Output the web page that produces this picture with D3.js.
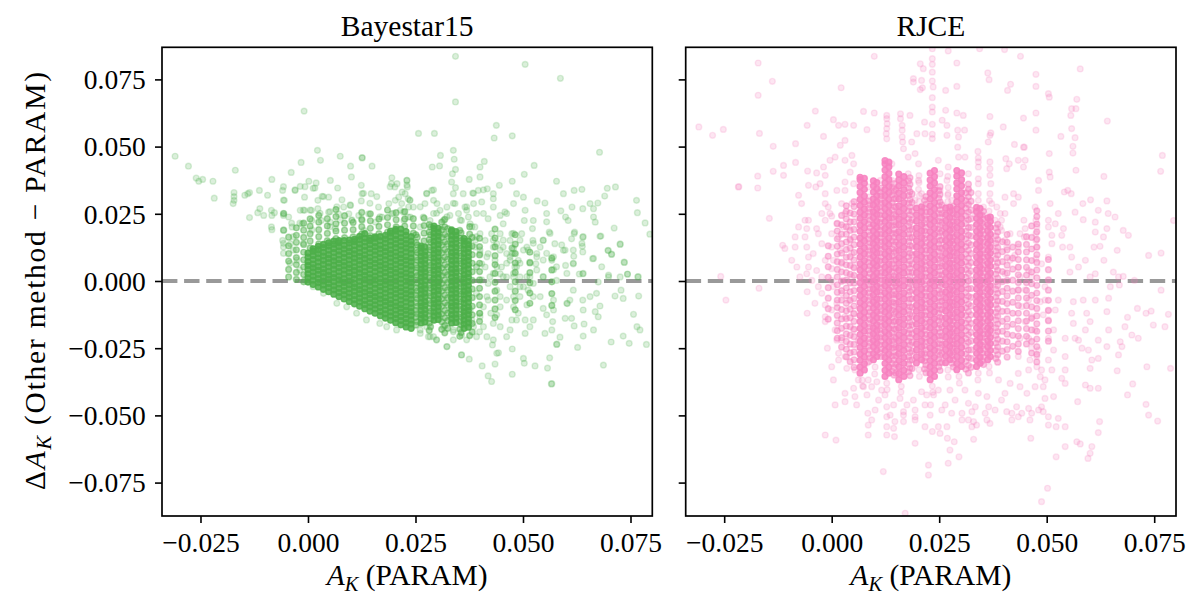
<!DOCTYPE html>
<html lang="en">
<head>
<meta charset="UTF-8">
<title>Delta A_K against PARAM</title>
<script src="https://d3js.org/d3.v7.min.js"></script>
<style>
  body { margin: 0; background: #fff; }
  svg { display: block; }
  text { font-family: "Liberation Serif", "DejaVu Serif", serif; fill: #000; }
</style>
</head>
<body>
<svg id="chart"></svg>
<script>
// every A_K / Delta A_K value below is in units of 0.001 mag
const xTicks = [-0.025, 0, 0.025, 0.05, 0.075];
const yTicks = [-0.075, -0.05, -0.025, 0, 0.025, 0.05, 0.075];
const panelTitles = ["Bayestar15", "RJCE"];

// ---- Bayestar15 ----
// single points
const bayesPts = [
  [-30.9,46.4],[-27.8,42.7],[-26.0,38.3],[-25.4,37.1],[-24.5,37.8],[-22.1,37.1],[-21.8,30.8],[-16.9,41.2],
  [-17.2,32.9],[-17.2,31.4],[-17.4,28.8],[-17.2,30.0],[-14.7,31.9],[-14.0,32.5],[-13.6,32.9],[-13.6,23.6],
  [-11.3,33.7],[-9.4,31.9],[-11.2,26.9],[-11.7,25.4],[-10.3,24.4],[-8.4,37.8],[-8.5,26.3],[-8.4,24.4],
  [-7.8,25.4],[-8.5,20.1],[-8.4,19.1],[-5.9,33.7],[-5.5,30.0],[-5.7,25.0],[-5.6,25.1],[-5.7,24.4],
  [-5.7,18.8],[-5.6,18.9],[-5.9,15.1],[-5.7,12.6],[-3.9,40.4],[-1.6,44.1],[-0.9,63.2],[2.2,48.6],
  [2.9,44.9],[7.5,46.4],[12.6,45.8],[12.6,45.9],[9.9,42.7],[10.1,38.7],[14.9,42.7],[0.2,37.1],
  [1.9,36.5],[-3.0,33.7],[-1.8,35.2],[-0.8,31.2],[1.6,34.6],[3.3,31.5],[4.8,31.2],[5.2,37.4],
  [6.9,34.6],[-1.8,26.3],[-0.8,26.3],[0.8,26.3],[2.3,26.9],[2.3,30.0],[7.9,30.2],[12.4,35.6],
  [12.6,32.5],[12.4,29.8],[14.7,32.5],[19.5,38.4],[19.4,36.2],[20.2,35.0],[20.7,36.2],[23.0,37.4],
  [21.9,33.1],[21.1,31.2],[23.3,30.6],
  [-4.5,23.8],[-3.7,20.1],[-4.1,13.9],[-1.4,21.3],[0.9,22.5],[3.1,22.5],[4.8,25.6],[5.2,21.9],
  [6.4,19.5],[7.1,25.0],[8.3,27.5],[9.5,25.0],[9.9,28.1],[10.2,22.5],[11.8,24.4],[12.6,22.5],
  [13.0,18.8],[14.1,25.0],[15.7,21.9],[16.4,27.5],[17.2,23.8],[18.8,28.8],[19.5,25.0],[20.3,30.0],
  [21.5,26.3],[22.3,22.5],[23.4,27.5],[23.8,23.8],
  [34.3,83.6],[50.5,80.6],[58.7,75.4],[34.3,66.6],[25.7,54.9],[29.4,54.9],[43.8,57.9],[43.3,53.2],
  [47.5,54.0],[67.8,47.9],[30.8,46.7],[28.9,42.4],[30.6,42.8],[33.8,48.6],[34.0,45.3],[34.3,41.5],
  [33.6,39.9],[33.4,36.8],[33.8,32.5],[34.3,34.7],[37.5,37.8],[36.1,32.5],[40.0,42.4],[41.0,44.5],
  [40.0,38.7],[44.5,35.6],[43.1,32.5],[38.3,32.7],[39.6,33.7],[40.8,33.9],[41.7,34.3],[50.3,39.7],
  [52.6,43.0],[47.5,37.1],[57.8,37.1],[59.4,32.5],[61.9,33.7],[63.7,34.1],[69.6,34.5],[71.5,35.0],
  [69.0,31.6],[76.4,30.0],[76.6,25.4],[78.4,21.6],[79.5,17.4],[71.2,19.7],[72.6,13.6],[67.9,16.6],
  [65.6,28.8],[66.4,26.9],[67.4,29.0],[63.9,26.9],[61.4,27.5],[58.8,26.1],[59.9,23.8],[60.5,22.5],
  [66.4,23.8],[66.8,21.9],[62.0,18.2],[63.9,16.3],[61.3,15.7],[63.8,12.9],[63.9,10.8],[61.8,9.2],
  [66.2,8.3],[69.8,11.4],[70.6,9.9],[73.5,7.0],[74.3,2.5],[76.7,1.5],[69.9,1.5],[72.6,1.5],
  [67.5,-0.4],[63.9,2.7],[61.7,6.4],[59.9,5.8],[59.4,11.4],[57.4,13.9],[55.1,29.0],[55.5,25.1],
  [55.5,22.0],[56.1,18.2],[54.7,15.1],[56.7,7.7],[57.1,4.2],[54.0,12.6],[53.3,29.8],[52.4,22.5],
  [52.2,19.5],[52.3,15.1],[53.2,10.2],[53.0,6.4],[50.9,12.6],[50.5,26.3],[50.3,22.5],[49.7,17.6],
  [50.1,31.2],[48.5,32.5],[47.8,28.8],[46.2,25.1],[44.7,24.4],[45.4,21.3],[47.8,12.0],[48.9,7.7],
  [46.2,10.2],[45.0,5.2],[43.1,12.6],[42.7,17.6],[41.9,23.2],[40.8,25.1],[39.2,25.1],[37.3,23.8],
  [36.5,27.5],[38.5,28.8],[40.4,29.4],[43.1,27.5],[43.1,30.6],[45.8,25.7],[47.4,17.6],[47.0,7.7],
  [44.7,2.7],[41.2,5.2],[49.3,1.5],[51.6,1.5],[54.7,1.5],[57.8,0.2],
  [23.0,37.4],[23.1,35.0],[22.6,32.5],[23.7,30.0],[21.8,28.8],[24.5,27.5],[22.2,25.6],[23.3,23.8],
  [27.6,32.5],[28.8,33.7],[29.2,30.0],[27.2,28.8],[30.0,28.8],[30.7,26.3],[29.2,25.1],[26.8,23.8],
  [28.4,22.5],[31.5,22.5],[26.1,20.1],[32.3,27.5],[33.0,24.4],[34.2,28.8],[35.0,25.1],[35.7,22.5],
  [36.9,26.3],[37.7,21.3],[38.8,20.1],[40.0,17.6],[41.2,15.1],[41.9,10.2],[40.0,10.2],[40.4,6.4],
  [38.8,12.6],[39.2,5.2],[44.7,17.6],[43.9,13.9],[43.5,7.7],[45.4,12.6],[47.0,15.1],[47.4,10.2],
  [48.1,5.2],[47.8,1.5],[46.2,1.5],[42.3,1.5],
  [35.7,-27.5],[37.5,-29.1],[40.5,-31.6],[41.9,-35.3],[42.7,-37.4],[43.5,-30.9],[44.3,-26.7],[42.9,-23.8],
  [47.5,-25.3],[47.5,-34.7],[50.1,-28.8],[50.3,-30.6],[52.8,-31.6],[55.7,-32.4],[56.2,-28.6],[56.6,-38.3],
  [56.7,-38.2],[57.8,-23.6],[57.9,-23.5],[58.6,-20.9],[62.7,-24.7],[64.0,-20.5],[68.7,-31.3],[70.5,-22.7],
  [73.3,-20.5],[74.7,-23.2],[78.7,-23.6],[75.7,-12.4],[76.5,-17.0],[77.2,-18.2],[71.4,-5.6],[73.3,-6.5],
  [76.9,-5.6],[72.8,-3.4],[74.3,2.6],[76.8,1.6],[73.6,6.9],[72.6,13.8],[69.8,11.3],[70.6,10.0],
  [68.1,16.7],[66.4,8.4],[68.3,5.3],[69.9,2.2],[67.1,-4.6],[65.6,-5.8],[66.8,-11.4],[67.5,-13.3],
  [66.4,-18.2],[67.9,-9.3],[63.9,-7.1],[64.0,-10.8],[64.2,-16.0],[61.9,-16.7],[61.3,-13.9],[60.2,-8.3],
  [60.3,-8.4],[60.9,-7.1],[59.8,-13.9],[61.7,-3.4],[60.2,2.8],[63.1,2.6],[64.0,2.8],[61.7,6.6],
  [59.8,11.5],[59.0,13.4],[61.7,11.5],[63.7,14.0],[64.0,16.5],[61.9,17.7],[57.1,9.0],[57.1,-7.1],
  [57.1,-10.8],[56.9,-15.1],[55.1,-19.5],[56.7,-18.2],[57.8,5.3],[54.7,1.6],[54.7,7.8],[55.5,10.3],
  [54.0,-5.8],[54.7,-10.2],[55.5,-12.6],[52.4,-14.5],[51.6,-17.0],[50.5,-19.5],[50.5,-14.5],[48.9,-12.0],
  [50.9,-8.9],[48.5,-14.5],[47.0,-18.2],[47.4,-14.5],[46.2,-20.7],[44.7,-17.0],[43.9,-26.9],[43.1,-21.9],
  [41.6,-20.7],[39.9,-18.9],[40.8,-17.0],[39.2,-20.7],[40.0,-13.3],[42.5,-12.0],[43.9,-12.6],[44.7,-9.6],
  [46.2,-7.1],[47.8,-9.6],[49.3,-5.8],[50.1,-2.1],[51.2,-3.4],[52.4,-0.9],[53.2,4.1],[51.6,6.6],
  [49.3,6.6],[47.8,10.3],[50.1,11.5],[52.4,14.0],[54.7,15.2],[56.3,17.7],[47.4,12.2],[47.5,12.3],
  [47.8,2.8],[47.0,-2.1],[43.9,-3.4],[43.1,2.8],[41.6,9.0],[44.7,11.5],[43.1,15.2],[41.6,-5.8],
  [40.0,-12.0],[38.5,-17.0],[36.9,-21.9],[35.7,-20.1],[33.8,-18.9],[32.3,-24.4],[33.8,-21.9],[29.9,-21.9],
  [29.2,-20.7],[28.0,-20.7],[26.1,-18.2],
  [38.9,15.2],[40.0,11.5],[39.2,5.3],[40.4,0.4],[39.2,-4.6],[40.8,-9.6],[41.9,-0.9],[43.9,5.3],
  [45.4,1.6],[46.2,6.6],[47.8,17.7],[49.3,15.2],[51.2,11.5],[53.2,9.0],[52.4,-5.8],[50.9,1.6],
  [49.3,-2.1],[44.7,-5.8],[43.1,-15.8],[47.8,-5.8],[48.5,5.3],[47.0,9.0],[45.4,15.2],[41.9,-7.1],
  [37.7,-10.8],[38.1,-14.5],[36.9,-3.4],
  [-5.7,35.1],[-5.7,30.1],[-5.7,25.2],[-5.7,19.0],[-5.7,14.0],[-5.7,10.3],[-3.4,16.5],[-3.4,11.5],
  [-2.6,7.8],[-3.0,33.9],[-0.7,35.1],[1.2,34.5],[-1.1,26.4],[0.5,26.4],[2.8,25.2],[5.1,25.8],
  [3.6,31.4],[6.7,27.6],[7.5,22.7],[9.8,28.3],[10.2,22.7],[5.1,20.2],[0.9,19.0],[-1.9,21.5],
  [-3.8,21.5],[-1.1,14.0],[-4.2,6.6],[-1.9,4.1],[-0.7,0.4],[1.2,-2.1],[3.6,-4.6],[6.7,-8.3],
  [9.0,-9.6],[11.3,-12.0],[13.6,-14.5],[16.7,-15.8],[18.3,-17.0],[20.6,-18.2],[26.1,-19.5],[28.4,-20.7],
  [29.9,-21.9],[32.3,-24.4],[35.7,-27.5],[33.8,-18.2],[31.5,-17.0],[27.6,-17.0],[12.9,32.6],[14.4,28.9],
  [16.0,31.4],[16.7,23.9],[19.8,25.2],[19.1,35.1],[23.0,35.7],[23.7,30.1],[26.1,27.6],[27.6,32.6],
  [29.2,33.9],[29.9,25.2],[32.3,23.9],[33.8,28.9],[35.4,22.7],[36.9,27.6],[38.5,32.6],[38.1,20.2],
  [39.2,16.5]
];
// medium-density streaks (a few points overlapping)
const bayesMidX = [-4.5, -2.7, -1.0, 0.5, 2.5, 4.5, 6.5, 8.5, 10.5, 12.5, 14.5, 16.5, 18.5, 20.5, 22.5, 24.5,
  25.1, 28.2, 31.8, 35.3, 27.0, 37.6, 39.9, 43.5, 48.2, 51.6, 56.7,
  25.4, 28.5, 31.1, 32.5, 35.6, 38.2];
const bayesMidY = [
  [1.5,4.3,7.4,10.2,13.1,16.3],
  [0.6,3.2,6.1,8.7,11.6,14.4,17.0,19.8],
  [-0.3,2.4,5.2,7.9,10.7,13.6,16.2,18.9,21.5],
  [12.3,14.9,17.6,20.4,23.1],
  [13.8,16.5,19.1,21.9,24.4],
  [15.0,17.7,20.5,23.2],
  [15.8,18.6,21.3,24.0,26.6],
  [16.1,18.9,21.5,24.3],
  [16.4,19.1,21.8],
  [17.5,20.2,22.9,25.5],
  [16.9,19.6,22.4,25.0],
  [17.6,20.3,23.1],
  [18.2,20.9,23.6,26.4],
  [20.1,22.8,25.4],
  [20.4,23.1,25.8],
  [17.8,20.5,23.2],
  [-16.4,-13.5,-10.9,-8.0,-5.2,-2.5,0.4,3.2,5.9,8.8,11.5,14.3,17.2],
  [-18.4,-15.7,-12.8,-10.1,-7.2,-4.4,-1.6,1.3,4.1,6.9,9.7,12.6,15.4,18.2,21.0],
  [-19.3,-16.6,-13.7,-11.0,-8.1,-5.3,-2.5,0.4,3.2,6.0,8.8,11.7,14.5,17.3,20.1,22.9],
  [-20.6,-17.9,-15.0,-12.3,-9.4,-6.6,-3.8,-0.9,1.9,4.7,7.5,10.4,13.2,16.0,18.8],
  [14.9,17.8,20.6,23.4],
  [-20.3,17.4,20.2],
  [-15.0,-12.0,-8.9,-5.8,-2.7,0.4,3.5,6.6,9.7,12.8,15.9],
  [-13.6,-10.4,-7.1,-3.8,-0.5,2.8,6.1,9.4,12.7,16.0,19.3],
  [-10.7,-7.3,-3.8,-0.3,3.2,6.7,10.2,13.7,17.2],
  [-8.3,-4.5,-0.7,3.1,6.9,10.7],
  [-9.1,-4.7,-0.3,4.1,8.5],
  [-15.1,-12.2,-9.4,-6.5,-3.7,-0.8,2.0,4.9,7.7,10.6,13.4,16.3],
  [-17.0,-14.1,-11.3,-8.4,-5.6,-2.7,0.1,3.0,5.8,8.7,11.5,14.4,17.2,20.1],
  [-18.0,-15.1,-12.3,-9.4,-6.6,-3.7,-0.9,2.0,4.8,7.7,10.5,13.4,16.2,19.1,21.9],
  [-17.6,-14.7,-11.9,-9.0,-6.2,-3.3,-0.5,2.4,5.2,8.1,10.9,13.8,16.6,19.5],
  [-19.2,-16.3,-13.5,-10.6,-7.8,-4.9,-2.1,0.8,3.6,6.5,9.3,12.2,15.0,17.9],
  [-19.0,-15.8,-12.6,-9.4,-6.2,-3.0,0.2,3.4,6.6,9.8,13.0,16.2]
];
// saturated streaks: many points stacked on top of each other
const bayesCoreX = [0.0, 1.2, 2.4, 3.6, 4.8, 6.0, 7.2, 8.4, 9.6, 10.8, 12.0, 13.2, 14.4, 15.6, 16.8, 18.0,
  19.2, 20.4, 21.6, 22.8, 24.0, 26.3, 27.2, 29.3, 30.3, 33.4, 34.4, 36.3, 37.3];
const bayesCoreY = [
  [-0.4,1.2,2.7,4.3,5.8,7.2,8.9,10.4],
  [-1.3,0.3,1.8,3.4,4.9,6.3,8.0,9.5,11.1,12.0],
  [-2.2,-0.6,0.9,2.5,4.0,5.4,7.1,8.6,10.2,11.6,12.9],
  [-3.1,-1.5,0.0,1.6,3.1,4.5,6.2,7.7,9.3,10.7,12.4,13.6],
  [-4.0,-2.4,-0.9,0.7,2.2,3.6,5.3,6.8,8.4,9.8,11.5,13.0,14.2],
  [-4.9,-3.3,-1.8,-0.2,1.3,2.7,4.4,5.9,7.5,8.9,10.6,12.1,13.7,14.8],
  [-5.8,-4.2,-2.7,-1.1,0.4,1.8,3.5,5.0,6.6,8.0,9.7,11.2,12.8,14.2,15.0],
  [-6.7,-5.1,-3.6,-2.0,-0.5,0.9,2.6,4.1,5.7,7.1,8.8,10.3,11.9,13.3,15.0],
  [-7.6,-6.0,-4.5,-2.9,-1.4,0.0,1.7,3.2,4.8,6.2,7.9,9.4,11.0,12.4,14.1,15.2],
  [-8.5,-6.9,-5.4,-3.8,-2.3,-0.9,0.8,2.3,3.9,5.3,7.0,8.5,10.1,11.5,13.2,14.7,15.5],
  [-9.4,-7.8,-6.3,-4.7,-3.2,-1.8,-0.1,1.4,3.0,4.4,6.1,7.6,9.2,10.6,12.3,13.8,15.4,16.6],
  [-10.3,-8.7,-7.2,-5.6,-4.1,-2.7,-1.0,0.5,2.1,3.5,5.2,6.7,8.3,9.7,11.4,12.9,14.5,15.9,17.6],
  [-11.2,-9.6,-8.1,-6.5,-5.0,-3.6,-1.9,-0.4,1.2,2.6,4.3,5.8,7.4,8.8,10.5,12.0,13.6,15.0,16.0],
  [-12.0,-10.4,-8.9,-7.3,-5.8,-4.4,-2.7,-1.2,0.4,1.8,3.5,5.0,6.6,8.0,9.7,11.2,12.8,14.2,15.9,16.4],
  [-12.9,-11.3,-9.8,-8.2,-6.7,-5.3,-3.6,-2.1,-0.5,0.9,2.6,4.1,5.7,7.1,8.8,10.3,11.9,13.3,15.0,16.5],
  [-13.8,-12.2,-10.7,-9.1,-7.6,-6.2,-4.5,-3.0,-1.4,0.0,1.7,3.2,4.8,6.2,7.9,9.4,11.0,12.4,14.1,15.6,17.0],
  [-14.6,-13.0,-11.5,-9.9,-8.4,-7.0,-5.3,-3.8,-2.2,-0.8,0.9,2.4,4.0,5.4,7.1,8.6,10.2,11.6,13.3,14.8,16.4,17.8,18.6],
  [-15.5,-13.9,-12.4,-10.8,-9.3,-7.9,-6.2,-4.7,-3.1,-1.7,0.0,1.5,3.1,4.5,6.2,7.7,9.3,10.7,12.4,13.9,15.5,16.9,18.6,19.2],
  [-16.3,-14.7,-13.2,-11.6,-10.1,-8.7,-7.0,-5.5,-3.9,-2.5,-0.8,0.7,2.3,3.7,5.4,6.9,8.5,9.9,11.6,13.1,14.7,16.1,17.8,19.3],
  [-17.1,-15.5,-14.0,-12.4,-10.9,-9.5,-7.8,-6.3,-4.7,-3.3,-1.6,-0.1,1.5,2.9,4.6,6.1,7.7,9.1,10.8,12.3,13.9,15.3,17.0,18.4],
  [-17.6,-16.0,-14.5,-12.9,-11.4,-10.0,-8.3,-6.8,-5.2,-3.8,-2.1,-0.6,1.0,2.4,4.1,5.6,7.2,8.6,10.3,11.8,13.4,14.8,16.5],
  [-15.6,-14.0,-12.5,-10.9,-9.4,-8.0,-6.3,-4.8,-3.2,-1.8,-0.1,1.4,3.0,4.4,6.1,7.6,9.2,10.6,12.3,13.0],
  [-15.3,-13.7,-12.2,-10.6,-9.1,-7.7,-6.0,-4.5,-2.9,-1.5,0.2,1.7,3.3,4.7,6.4,7.9,9.5,10.9,12.6],
  [-14.6,-13.0,-11.5,-9.9,-8.4,-7.0,-5.3,-3.8,-2.2,-0.8,0.9,2.4,4.0,5.4,7.1,8.6,10.2,11.6,13.3,14.8,16.4,17.8,19.5,20.4],
  [-14.3,-12.7,-11.2,-9.6,-8.1,-6.7,-5.0,-3.5,-1.9,-0.5,1.2,2.7,4.3,5.7,7.4,8.9,10.5,11.9,13.6,15.1,16.7,18.1,19.6],
  [-15.6,-14.0,-12.5,-10.9,-9.4,-8.0,-6.3,-4.8,-3.2,-1.8,-0.1,1.4,3.0,4.4,6.1,7.6,9.2,10.6,12.3,13.8,15.4,16.8,18.5,19.0],
  [-15.4,-13.8,-12.3,-10.7,-9.2,-7.8,-6.1,-4.6,-3.0,-1.6,0.1,1.6,3.2,4.6,6.3,7.8,9.4,10.8,12.5,14.0,15.6,17.0,18.4],
  [-17.6,-16.0,-14.5,-12.9,-11.4,-10.0,-8.3,-6.8,-5.2,-3.8,-2.1,-0.6,1.0,2.4,4.1,5.6,7.2,8.6,10.3,11.8,13.4,14.8,15.8],
  [-17.2,-15.6,-14.1,-12.5,-11.0,-9.6,-7.9,-6.4,-4.8,-3.4,-1.7,-0.2,1.4,2.8,4.5,6.0,7.6,9.0,10.6,12.1,13.5,14.9]
];

// ---- RJCE ----
const rjcePts = [
  [-30.9,57.3],[-27.7,54.2],[-25.2,56.4],[-17.1,81.1],[-13.8,74.3],[-17.1,69.1],[-16.8,54.9],[-13.6,50.1],
  [-21.7,35.0],[-21.6,35.1],[-17.2,39.0],[-17.2,34.6],[-13.6,40.8],[-14.5,23.3],[-11.2,43.0],[-11.2,39.3],
  [-8.4,51.1],[-8.4,44.1],[-5.7,57.9],[-3.8,63.2],[-5.6,40.9],[-3.5,40.2],[-5.4,35.6],[-7.7,31.9],
  [-7.0,28.8],[-5.4,22.6],[-7.7,20.1],[-6.2,16.4],[-8.5,16.4],[-10.9,12.1],[-11.4,13.3],[-9.3,7.7],
  [-25.8,1.7],[-1.9,53.8],[0.4,60.0],[1.6,57.9],[3.1,58.3],[5.1,57.9],[2.2,71.9],[-3.7,35.0],
  [-1.5,32.5],[-0.8,27.5],[0.0,24.1],[-1.9,42.4],[-0.4,44.9],[0.8,46.1],[2.0,50.5],[3.1,52.3],
  [3.1,44.9],[4.7,46.7],[5.1,43.6],[4.3,40.5],[-1.5,39.3],[-2.7,36.2],[3.1,36.8],[1.2,33.7],
  [3.1,33.7],[5.1,36.2],[2.3,28.8],[4.7,28.8],[-3.5,19.5],[-1.5,22.6],[0.0,17.6],[2.7,20.1],
  [-2.3,13.9],[-1.5,7.7],[0.0,4.6],[-3.5,3.9],[-5.8,2.7],[-5.4,8.9],
  [7.4,63.1],[8.2,56.3],[9.9,83.6],[9.9,62.5],[12.8,61.6],[12.8,60.4],[12.9,58.5],[12.8,56.7],
  [12.7,54.8],[12.8,52.9],[16.0,62.2],[16.0,60.4],[16.4,57.9],[16.4,56.1],[16.4,53.6],[16.5,51.7],
  [16.7,49.2],[18.2,61.6],[18.6,51.7],[19.8,54.8],[20.6,80.8],[21.3,79.0],[19.0,75.3],[19.0,74.0],
  [20.9,74.6],[21.1,71.9],[20.6,71.2],[21.7,54.8],[21.6,59.1],[23.4,86.4],[23.4,82.7],[23.4,80.6],
  [23.4,77.7],[23.4,74.4],[23.6,72.2],[23.4,68.2],[23.4,64.7],[23.4,62.9],[23.4,58.3],[23.4,54.6],
  [23.4,53.0],[27.1,85.6],[29.1,81.1],[29.1,72.4],[26.5,70.9],[26.5,63.5],[25.7,59.8],[26.8,57.9],
  [26.8,54.2],[29.1,62.5],[30.6,61.6],[29.3,56.1],[30.9,56.1],[29.5,53.6],[29.3,49.8],[29.5,46.1],
  [31.0,46.1],[34.4,86.4],[40.2,86.1],[43.9,83.6],[36.3,77.4],[36.6,74.9],[40.9,70.9],[41.6,73.2],
  [47.5,76.9],[47.5,72.4],[50.4,69.7],[50.6,68.4],[57.8,78.9],[57.0,67.6],[55.8,64.1],[56.8,64.1],
  [55.6,61.6],[55.8,56.7],[56.6,53.3],[56.1,50.1],[56.1,47.6],[56.8,41.2],[64.1,59.5],[63.3,38.9],
  [76.9,46.7],[76.5,40.8],[79.5,22.5],[47.5,62.5],[47.5,56.1],[44.6,60.6],[44.6,49.8],[42.5,50.8],
  [39.9,57.3],[37.0,55.1],[36.8,54.2],[36.4,51.7],[36.8,61.2],[34.0,48.2],[34.1,45.8],[34.1,44.3],
  [34.1,42.4],[34.1,38.0],[34.1,36.2],[34.1,32.5],[36.8,44.3],[36.8,41.8],[36.8,39.3],[37.0,36.2],
  [36.8,32.5],[40.5,45.5],[40.7,41.8],[41.3,43.6],[43.4,44.9],[44.8,49.8],[45.0,44.9],[44.6,42.4],
  [50.6,47.4],[50.6,40.5],[50.8,38.7],[48.1,37.4],[48.1,33.7],[53.3,53.8],[54.1,33.1],[54.9,33.7],
  [55.7,32.5],[56.6,25.6],[58.4,28.8],[60.2,30.2],[58.5,22.8],[61.3,21.9],[62.0,26.3],[64.0,29.8],
  [64.0,19.5],[65.9,23.8],[64.3,25.1],[61.3,18.2],[63.2,16.4],[62.4,12.9],[61.0,12.6],[63.3,7.7],
  [66.4,11.4],[67.8,18.8],[69.0,17.0],[73.7,9.5],[76.6,10.4],[70.4,0.2],[66.7,1.5],[67.8,1.7],
  [65.5,3.3],[60.1,1.5],[61.3,2.7],[55.4,3.3],[57.4,5.2],[59.0,7.7],[55.8,8.9],[55.4,12.6],
  [53.5,17.0],[53.7,12.6],[53.9,19.5],[51.2,17.0],[52.0,21.3],[50.4,22.6],[50.4,20.1],[51.2,13.9],
  [50.4,8.9],[48.8,6.4],[47.3,27.5],[47.5,22.6],[47.7,20.1],[47.5,17.6],[47.5,15.1],[47.7,12.6],
  [47.5,8.3],[45.0,19.5],[44.8,16.4],[44.7,22.6],[43.8,17.6],[43.4,12.6],[42.6,9.6],[43.4,5.2],
  [43.8,1.5],[45.8,3.9],[46.5,1.5],[41.5,7.7],[40.3,2.7],[40.3,15.1],[40.7,12.6],[39.2,20.1],
  [39.5,22.6],[38.4,27.5],[39.2,25.1],[42.3,32.5],[43.4,31.2],[42.3,28.8],[40.3,31.2],[50.8,28.8],
  [52.7,25.1],
  [-6.2,22.6],[-5.8,19.5],[-5.8,12.6],[-5.4,5.2],[-4.3,10.2],[-3.1,17.6],[-2.3,25.1],[-1.5,28.8],
  [-0.4,25.1],[0.0,12.6],[0.4,7.7],[1.2,21.3],[1.6,16.4],[2.0,11.4],[2.3,6.4],[3.1,25.1],
  [3.9,20.1],[4.3,15.1],[4.7,10.2],[5.1,5.2],[4.7,1.5],[2.7,0.2],[0.0,0.2],[-2.3,1.5],
  [-4.6,0.2],[-7.4,1.5],[-8.5,12.6],[-8.1,5.2],
  [8.5,35.0],[8.7,31.3],[11.3,37.4],[11.3,32.5],[14.0,43.6],[14.0,37.4],[14.4,32.5],[17.8,46.1],
  [17.8,39.9],[19.4,47.4],[20.2,43.6],[20.2,37.4],[20.9,32.5],[19.4,30.0],[24.8,44.9],[25.2,39.9],
  [25.2,33.7],[27.1,42.4],[26.8,37.4],[27.1,32.5],[27.9,30.0],[31.8,39.9],[31.8,33.7],[31.4,28.8],
  [34.1,30.0],[33.4,25.1],[35.3,27.5],[37.2,28.8],[38.0,22.6],[40.3,25.1],[39.5,18.8],[41.5,17.6],
  [20.3,29.5],[20.4,31.8],[20.2,34.1],[20.3,36.6],[20.3,39.2],[27.0,29.6],[27.0,32.0],[27.1,34.8],
  [27.0,38.9],[36.6,26.0],[36.7,29.9],
  [-24.6,-7.1],[-16.9,-2.7],[-5.7,-4.0],[-5.7,-12.0],[-3.9,-8.3],[-1.5,-8.9],[-1.5,-13.3],[-1.5,-15.1],
  [-1.0,-25.0],[-1.5,-57.3],[1.0,-59.2],[0.8,-46.1],[3.1,-44.9],[3.1,-41.8],[5.8,-46.1],[0.8,-18.2],
  [1.2,-22.0],[1.6,-26.9],[3.1,-28.1],[3.5,-32.5],[5.1,-39.9],[5.4,-33.1],[7.4,-39.3],[8.2,-42.4],
  [8.4,-49.2],[8.5,-53.6],[9.3,-51.7],[12.0,-70.9],[12.8,-57.3],[14.6,-57.9],[14.4,-54.8],[16.7,-49.9],
  [17.1,-86.4],[19.4,-60.4],[22.5,-68.5],[22.5,-72.2],[23.4,-56.0],[25.2,-56.7],[26.9,-58.5],[28.5,-59.8],
  [27.5,-62.9],[27.1,-67.8],[29.6,-65.4],[33.0,-58.9],[33.0,-52.3],[33.7,-53.6],[36.8,-53.0],[46.3,-58.5],
  [48.8,-82.1],[50.2,-77.1],[52.2,-65.4],[54.3,-61.6],[57.0,-59.8],[57.8,-60.6],[59.6,-66.0],[60.1,-64.1],
  [60.5,-61.6],[62.0,-56.4],[62.3,-52.3],[73.1,-45.9],[73.7,-49.9],[75.8,-52.1],[78.8,-32.5],[77.5,-17.0],
  [78.3,-12.4],[76.6,-3.4],[74.8,-16.4],[74.3,-11.2],[73.1,-12.0],[71.1,-10.2],[71.3,-21.3],[69.8,-20.1],
  [70.0,-38.3],[68.8,-42.4],[73.3,-31.9],[68.2,-17.0],[68.8,-13.5],[67.1,-22.6],[67.5,-24.4],[66.4,-33.4],
  [66.7,-27.5],[66.9,-1.5],[64.8,-2.1],[64.4,-6.4],[64.0,-11.4],[64.4,-18.2],[64.0,-24.4],[62.0,-22.0],
  [62.0,-28.8],[62.0,-39.9],[60.1,-39.9],[59.0,-38.7],[60.1,-32.5],[60.5,-29.4],[59.7,-25.7],[58.2,-25.0],
  [57.4,-22.0],[59.0,-18.2],[59.3,-12.0],[60.1,-15.1],[61.3,-7.1],[58.5,-7.1],[56.2,-7.7],[55.8,-12.0],
  [56.2,-15.8],[56.6,-21.3],[54.3,-21.3],[54.3,-28.1],[54.3,-33.1],[53.5,-36.2],[54.3,-38.1],[57.2,-44.9],
  [54.3,-54.2],[52.7,-51.1],[52.2,-54.2],[50.4,-50.5],[50.4,-53.6],[51.6,-43.0],[49.6,-43.7],[49.2,-48.6],
  [46.1,-51.7],[46.5,-49.2],[48.1,-48.0],[48.8,-46.8],[45.8,-47.4],[44.2,-49.2],[43.0,-46.8],[43.4,-50.5],
  [41.9,-49.2],[40.7,-48.6],[45.4,-41.8],[47.3,-39.3],[49.2,-39.3],[49.6,-36.8],[48.5,-35.6],[48.8,-33.1],
  [50.4,-29.4],[51.2,-33.1],[51.6,-25.7],[50.4,-21.3],[51.6,-18.2],[50.4,-14.5],[49.2,-12.6],[48.5,-7.7],
  [49.6,-7.1],[50.4,-10.8],[52.0,-10.8],[52.7,-7.1],[49.6,-2.1],[47.3,-18.2],[48.1,-25.7],[47.7,-28.1],
  [47.7,-31.9],[45.8,-33.1],[46.1,-29.4],[46.5,-25.0],[45.8,-21.3],[45.0,-15.1],[46.5,-13.3],[44.2,-9.5],
  [45.8,-7.1],[43.4,-3.3],[45.0,-3.3],[43.8,-21.3],[43.4,-28.1],[43.4,-34.4],[43.8,-39.3],[41.5,-38.1],
  [40.3,-41.8],[39.5,-44.3],[38.8,-36.8],[38.0,-48.0],[36.5,-46.8],[36.1,-43.0],[35.7,-49.2],[33.4,-46.8],
  [32.6,-48.6],[34.1,-41.8],[31.8,-45.5],[31.0,-40.6],[30.3,-49.2],[30.3,-51.7],[27.9,-49.2],[28.7,-44.3],
  [27.5,-40.6],[26.4,-46.1],[25.6,-48.0],[24.8,-40.6],[23.0,-46.1],[22.9,-49.9],[23.7,-42.4],[22.1,-42.4],
  [21.7,-46.1],[20.9,-41.2],[19.4,-48.0],[19.4,-50.5],[19.0,-44.3],[17.5,-46.1],[16.7,-48.6],[15.9,-43.7],
  [14.4,-46.1],[13.6,-49.9],[12.8,-50.5],[12.8,-46.8],[12.4,-42.4],[11.6,-40.6],[10.9,-44.3],[10.1,-48.0],
  [10.5,-37.5],[9.3,-39.3],[8.5,-36.8],[8.2,-30.6],[6.2,-22.0],[5.1,-18.2],[5.1,-12.0],[3.9,-7.1],
  [3.1,-13.3],[2.3,-22.0],[2.3,-4.6],[1.2,-8.3],[0.0,-10.8],[0.4,-2.1],[-2.3,-4.6],[-3.1,-2.1],
  [0.0,-31.9],[0.4,-36.8],[1.6,-29.4],[5.4,-43.0],[6.2,-36.8],[8.5,-57.3],[12.8,-54.2],[14.7,-52.3],
  [16.7,-52.3],[19.4,-51.7],[21.7,-54.2],[24.8,-54.2],[26.8,-54.2],[31.8,-51.7],[32.6,-54.2],[36.1,-51.7],
  [41.9,-51.7],
  [7.1,-36.9],[7.2,-39.1],[10.1,-32.0],[10.0,-34.6],[12.8,-38.0],[12.9,-40.4],[16.2,-39.2],[16.1,-41.3],
  [20.3,-33.0],[20.4,-35.5],[23.4,-39.1],[23.5,-41.4],[27.0,-33.1],[27.1,-35.7],[29.6,-35.5],[29.7,-38.0],
  [34.1,-34.3],[34.0,-36.8],[36.6,-31.8],[36.7,-34.2]
];
// medium-density streaks between the saturated ones
const rjceMidX = [8.6, 11.5, 14.5, 18.2, 21.9, 25.2, 28.3, 31.8, 35.3, 38.6, 40.8, 43.4, 45.3, 47.7, 50.4,
  5.2, 3.4, 1.3, -0.8,
  8.9, 11.2, 14.1, 14.9, 17.9, 18.7, 21.6, 24.9, 25.6, 28.0, 31.2, 32.4, 35.0, 38.2, 4.3, 2.3, 39.7, 42.1, 46.5];
const rjceMidY = [
  [-30.0,-27.2,-24.3,-21.5,-18.6,-15.8,-12.9,-10.1,-7.2,-4.4,-1.5,1.3,4.2,7.0,9.9,12.7,15.6,18.4,21.3,24.1,27.0,29.8],
  [-28.1,-25.3,-22.4,-19.6,-16.7,-13.9,-11.0,-8.2,-5.3,-2.5,0.4,3.2,6.1,8.9,11.8,14.6,17.5,20.3,23.2,26.0,28.9,31.7,34.6],
  [-35.0,-32.2,-29.3,-26.5,-23.6,-20.8,-17.9,-15.1,-12.2,-9.4,-6.5,-3.7,-0.8,2.0,4.9,7.7,10.6,13.4,16.3,19.1,22.0,24.8,27.7,30.5,33.4,36.2],
  [-35.2,-32.4,-29.5,-26.7,-23.8,-21.0,-18.1,-15.3,-12.4,-9.6,-6.7,-3.9,-1.0,1.8,4.7,7.5,10.4,13.2,16.1,18.9,21.8,24.6,27.5,30.3,33.2,36.0,38.4],
  [-34.1,-31.3,-28.4,-25.6,-22.7,-19.9,-17.0,-14.2,-11.3,-8.5,-5.6,-2.8,0.1,2.9,5.8,8.6,11.5,14.3,17.2,20.0,22.9,25.7,28.6,31.4],
  [-33.3,-30.5,-27.6,-24.8,-21.9,-19.1,-16.2,-13.4,-10.5,-7.7,-4.8,-2.0,0.9,3.7,6.6,9.4,12.3,15.1,18.0,20.8,23.7,26.5,29.4,32.2,35.1],
  [-32.0,-29.2,-26.3,-23.5,-20.6,-17.8,-14.9,-12.1,-9.2,-6.4,-3.5,-0.7,2.2,5.0,7.9,10.7,13.6,16.4,19.3,22.1,25.0,27.8],
  [-34.2,-31.4,-28.5,-25.7,-22.8,-20.0,-17.1,-14.3,-11.4,-8.6,-5.7,-2.9,0.0,2.8,5.7,8.5,11.4,14.2,17.1,19.9,22.8,25.6,28.5,31.3,34.2,36.0],
  [-31.1,-28.3,-25.4,-22.6,-19.7,-16.9,-14.0,-11.2,-8.3,-5.5,-2.6,0.2,3.1,5.9,8.8,11.6,14.5,17.3,20.2,23.0,25.9],
  [-30.2,-27.4,-24.5,-21.7,-18.8,-16.0,-13.1,-10.3,-7.4,-4.6,-1.7,1.1,4.0,6.8,9.7,12.5,15.4,18.2,21.1],
  [-28.3,-25.5,-22.6,-19.8,-16.9,-14.1,-11.2,-8.4,-5.5,-2.7,0.2,3.0,5.9,8.7,11.6,14.4,17.3],
  [-26.2,-23.4,-20.5,-17.7,-14.8,-12.0,-9.1,-6.3,-3.4,-0.6,2.3,5.1,8.0,10.8,13.7],
  [-23.4,-20.6,-17.7,-14.9,-12.0,-9.2,-6.3,-3.5,-0.6,2.2,5.1,7.9,10.8,13.6,16.5],
  [-30.1,-27.3,-24.4,-21.6,-18.7,-15.9,-13.0,-10.2,-7.3,-4.5,-1.6,1.2,4.1,6.9,9.8,12.6,15.5,18.3,21.2,24.0,26.1],
  [-22.4,-18.6,-14.8,-11.0,-7.2,-3.4,0.4,4.2,8.0],
  [-32.1,-29.3,-26.4,-23.6,-20.7,-17.9,-15.0,-12.2,-9.3,-6.5,-3.6,-0.8,2.1,4.9,7.8,10.6,13.5,16.3,19.2,22.0,24.9,27.7,29.5],
  [-28.2,-25.4,-22.5,-19.7,-16.8,-14.0,-11.1,-8.3,-5.4,-2.6,0.3,3.1,6.0,8.8,11.7,14.5,17.4,20.2,23.1,25.9,28.0],
  [-21.3,-18.5,-15.6,-12.8,-9.9,-7.1,-4.2,-1.4,1.5,4.3,7.2,10.0,12.9,15.7,18.6,21.4],
  [-14.2,-10.3,-6.4,-2.5,1.4,5.3,9.2,13.1],
  [-28.6,-25.7,-22.9,-20.0,-17.2,-14.3,-11.5,-8.6,-5.8,-2.9,-0.1,2.8,5.6,8.5,11.3,14.2,17.0,19.9,22.7,25.6,28.4],
  [-26.7,-23.8,-21.0,-18.1,-15.3,-12.4,-9.6,-6.7,-3.9,-1.0,1.8,4.7,7.5,10.4,13.2,16.1,18.9,21.8,24.6,27.5,30.3,33.1],
  [-33.6,-30.7,-27.9,-25.0,-22.2,-19.3,-16.5,-13.6,-10.8,-7.9,-5.1,-2.2,0.6,3.5,6.3,9.2,12.0,14.9,17.7,20.6,23.4,26.3,29.1,32.0,34.8],
  [-34.3,-31.0,-27.8,-24.5,-21.3,-18.0,-14.8,-11.5,-8.3,-5.0,-1.8,1.5,4.7,8.0,11.2,14.5,17.7,21.0,24.2,27.5,30.7,34.0],
  [-33.8,-30.9,-28.1,-25.2,-22.4,-19.5,-16.7,-13.8,-11.0,-8.1,-5.3,-2.4,0.4,3.3,6.1,9.0,11.8,14.7,17.5,20.4,23.2,26.1,28.9,31.8,34.6,37.3],
  [-32.6,-29.3,-26.1,-22.8,-19.6,-16.3,-13.1,-9.8,-6.6,-3.3,-0.1,3.2,6.4,9.7,12.9,16.2,19.4,22.7,25.9,29.2,32.4],
  [-32.7,-29.8,-27.0,-24.1,-21.3,-18.4,-15.6,-12.7,-9.9,-7.0,-4.2,-1.3,1.5,4.4,7.2,10.1,12.9,15.8,18.6,21.5,24.3,27.2,30.0],
  [-31.9,-29.0,-26.2,-23.3,-20.5,-17.6,-14.8,-11.9,-9.1,-6.2,-3.4,-0.5,2.3,5.2,8.0,10.9,13.7,16.6,19.4,22.3,25.1,28.0,30.8,33.6],
  [-30.2,-26.9,-23.7,-20.4,-17.2,-13.9,-10.7,-7.4,-4.2,-0.9,2.3,5.6,8.8,12.1,15.3,18.6,21.8,25.1,28.3],
  [-30.6,-27.7,-24.9,-22.0,-19.2,-16.3,-13.5,-10.6,-7.8,-4.9,-2.1,0.8,3.6,6.5,9.3,12.2,15.0,17.9,20.7,23.6,26.4],
  [-32.8,-29.9,-27.1,-24.2,-21.4,-18.5,-15.7,-12.8,-10.0,-7.1,-4.3,-1.4,1.4,4.3,7.1,10.0,12.8,15.7,18.5,21.4,24.2,27.1,29.9,32.8],
  [-32.1,-28.8,-25.6,-22.3,-19.1,-15.8,-12.6,-9.3,-6.1,-2.8,0.4,3.7,6.9,10.2,13.4,16.7,19.9,23.2,26.4,29.7,32.9],
  [-29.7,-26.8,-24.0,-21.1,-18.3,-15.4,-12.6,-9.7,-6.9,-4.0,-1.2,1.7,4.5,7.4,10.2,13.1,15.9,18.8,21.6,24.5],
  [-28.8,-25.9,-23.1,-20.2,-17.4,-14.5,-11.7,-8.8,-6.0,-3.1,-0.3,2.6,5.4,8.3,11.1,14.0,16.8,19.7],
  [-30.0,-26.7,-23.5,-20.2,-17.0,-13.7,-10.5,-7.2,-4.0,-0.7,2.5,5.8,9.0,12.3,15.5,18.8,22.0,25.3],
  [-24.6,-21.1,-17.6,-14.1,-10.6,-7.1,-3.6,-0.1,3.4,6.9,10.4,13.9,17.4,20.9,24.4],
  [-26.1,-22.4,-18.7,-15.0,-11.3,-7.6,-3.9,-0.2,3.5,7.2,10.9,14.6],
  [-24.3,-20.2,-16.1,-12.0,-7.9,-3.8,0.3,4.4,8.5,12.6],
  [-26.8,-22.5,-18.2,-13.9,-9.6,-5.3,-1.0,3.3,7.6,11.9,16.2,20.5]
];
// saturated streaks (each streak is two close sub-streaks of stacked points)
const rjceCoreX = [6.6, 7.6, 9.7, 10.5, 12.4, 13.3, 15.6, 16.8, 19.7, 20.9, 22.9, 23.9, 26.5, 27.5, 29.1, 30.2,
  33.7, 34.5, 36.3, 36.9];
const rjceCoreY = [
  [-34.3,-32.0,-29.5,-27.2,-24.7,-22.4,-19.9,-17.6,-15.1,-12.8,-10.3,-8.0,-5.5,-3.2,-0.7,1.6,4.1,6.4,8.9,11.2,13.7,16.0,18.5,20.8,23.3,25.6,28.1,30.4,32.9,35.2,37.7,38.6],
  [-33.1,-30.8,-28.3,-26.0,-23.5,-21.2,-18.7,-16.4,-13.9,-11.6,-9.1,-6.8,-4.3,-2.0,0.5,2.8,5.3,7.6,10.1,12.4,14.9,17.2,19.7,22.0,24.5,26.8,29.3,31.6,34.1,36.4,38.2],
  [-29.3,-27.0,-24.5,-22.2,-19.7,-17.4,-14.9,-12.6,-10.1,-7.8,-5.3,-3.0,-0.5,1.8,4.3,6.6,9.1,11.4,13.9,16.2,18.7,21.0,23.5,25.8,28.3,30.6,33.1,35.4,37.3],
  [-28.1,-25.8,-23.3,-21.0,-18.5,-16.2,-13.7,-11.4,-8.9,-6.6,-4.1,-1.8,0.7,3.0,5.5,7.8,10.3,12.6,15.1,17.4,19.9,22.2,24.7,27.0,29.5,31.8,34.3,36.6],
  [-35.5,-33.2,-30.7,-28.4,-25.9,-23.6,-21.1,-18.8,-16.3,-14.0,-11.5,-9.2,-6.7,-4.4,-1.9,0.4,2.9,5.2,7.7,10.0,12.5,14.8,17.3,19.6,22.1,24.4,26.9,29.2,31.7,34.0,36.5,38.8,41.3,43.6,44.8],
  [-34.3,-32.0,-29.5,-27.2,-24.7,-22.4,-19.9,-17.6,-15.1,-12.8,-10.3,-8.0,-5.5,-3.2,-0.7,1.6,4.1,6.4,8.9,11.2,13.7,16.0,18.5,20.8,23.3,25.6,28.1,30.4,32.9,35.2,37.7,40.0,42.5,44.2],
  [-36.7,-34.4,-31.9,-29.6,-27.1,-24.8,-22.3,-20.0,-17.5,-15.2,-12.7,-10.4,-7.9,-5.6,-3.1,-0.8,1.7,4.0,6.5,8.8,11.3,13.6,16.1,18.4,20.9,23.2,25.7,28.0,30.5,32.8,35.3,37.6,39.8],
  [-35.5,-33.2,-30.7,-28.4,-25.9,-23.6,-21.1,-18.8,-16.3,-14.0,-11.5,-9.2,-6.7,-4.4,-1.9,0.4,2.9,5.2,7.7,10.0,12.5,14.8,17.3,19.6,22.1,24.4,26.9,29.2,31.7,34.0,36.5,38.8],
  [-30.5,-28.2,-25.7,-23.4,-20.9,-18.6,-16.1,-13.8,-11.3,-9.0,-6.5,-4.2,-1.7,0.6,3.1,5.4,7.9,10.2,12.7,15.0,17.5,19.8,22.3,24.6,27.1],
  [-29.3,-27.0,-24.5,-22.2,-19.7,-17.4,-14.9,-12.6,-10.1,-7.8,-5.3,-3.0,-0.5,1.8,4.3,6.6,9.1,11.4,13.9,16.2,18.7,21.0,23.5,25.8,27.6],
  [-36.7,-34.4,-31.9,-29.6,-27.1,-24.8,-22.3,-20.0,-17.5,-15.2,-12.7,-10.4,-7.9,-5.6,-3.1,-0.8,1.7,4.0,6.5,8.8,11.3,13.6,16.1,18.4,20.9,23.2,25.7,28.0,30.5,32.8,35.3,37.6,40.1],
  [-35.5,-33.2,-30.7,-28.4,-25.9,-23.6,-21.1,-18.8,-16.3,-14.0,-11.5,-9.2,-6.7,-4.4,-1.9,0.4,2.9,5.2,7.7,10.0,12.5,14.8,17.3,19.6,22.1,24.4,26.9,29.2,31.7,34.0,36.5,38.8,41.1],
  [-30.4,-28.0,-25.6,-23.3,-20.8,-18.5,-16.0,-13.7,-11.2,-8.9,-6.4,-4.1,-1.6,0.7,3.2,5.5,8.0,10.3,12.8,15.1,17.6,19.9,22.4,24.7,27.2],
  [-29.2,-26.9,-24.4,-22.1,-19.6,-17.3,-14.8,-12.5,-10.0,-7.7,-5.2,-2.9,-0.4,1.9,4.4,6.7,9.2,11.5,14.0,16.3,18.8,21.1,23.6,25.9,27.5],
  [-33.0,-30.7,-28.2,-25.9,-23.4,-21.1,-18.6,-16.3,-13.8,-11.5,-9.0,-6.7,-4.2,-1.9,0.6,2.9,5.4,7.7,10.2,12.5,15.0,17.3,19.8,22.1,24.6,26.9,29.4,31.7,34.2,36.5,39.0,41.1],
  [-31.8,-29.5,-27.0,-24.7,-22.2,-19.9,-17.4,-15.1,-12.6,-10.3,-7.8,-5.5,-3.0,-0.7,1.8,4.1,6.6,8.9,11.4,13.7,16.2,18.5,21.0,23.3,25.8,28.1,30.6,32.9,35.4,37.7,40.2],
  [-31.8,-29.5,-27.0,-24.7,-22.2,-19.9,-17.4,-15.1,-12.6,-10.3,-7.8,-5.5,-3.0,-0.7,1.8,4.1,6.6,8.9,11.4,13.7,16.2,18.5,21.0,23.3,25.8,27.4],
  [-30.6,-28.3,-25.8,-23.5,-21.0,-18.7,-16.2,-13.9,-11.4,-9.1,-6.6,-4.3,-1.8,0.5,3.0,5.3,7.8,10.1,12.6,14.9,17.4,19.7,22.2,24.5,27.0],
  [-29.3,-27.0,-24.5,-22.2,-19.7,-17.4,-14.9,-12.6,-10.1,-7.8,-5.3,-3.0,-0.5,1.8,4.3,6.6,9.1,11.4,13.9,16.2,18.7,21.0,23.5],
  [-28.1,-25.8,-23.3,-21.0,-18.5,-16.2,-13.7,-11.4,-8.9,-6.6,-4.1,-1.8,0.7,3.0,5.5,7.8,10.3,12.6,15.1,17.4,19.9,22.2,23.8]
];

const width = 1200, height = 600;
const plotTop = 47.3, plotW = 490.3, plotH = 468.7;
const panelLeft = [162, 685.7];
const tickFont = 27.5, labelFont = 29.5;
// how opaque a mark looks: one point, a few stacked points, many stacked points
const alphaOf = { single: 0.2, mid: 0.45, core: 0.85 };

const svg = d3.select("#chart").attr("width", width).attr("height", height);
svg.append("rect").attr("width", width).attr("height", height).attr("fill", "#fff");

const x = d3.scaleLinear().domain([-0.03395, 0.08007]).range([0, plotW]);
const y = d3.scaleLinear().domain([-0.08743, 0.08694]).range([plotH, 0]);
const fmt = d3.format(".3f");

function collect(pts, midX, midY, coreX, coreY) {
  const out = pts.map(p => ({ x: p[0], y: p[1], kind: "single" }));
  midX.forEach((mx, i) => midY[i].forEach(v => out.push({ x: mx, y: v, kind: "mid" })));
  coreX.forEach((cx, i) => coreY[i].forEach(v => out.push({ x: cx, y: v, kind: "core" })));
  return out;
}

function drawPanel(i, color, marks, showYLabels) {
  const g = svg.append("g").attr("transform", `translate(${panelLeft[i]},${plotTop})`);

  g.append("clipPath").attr("id", "clip" + i)
    .append("rect").attr("width", plotW).attr("height", plotH);

  const plot = g.append("g").attr("clip-path", `url(#clip${i})`);

  // zero line sits under the points
  plot.append("line")
    .attr("x1", 0).attr("x2", plotW)
    .attr("y1", y(0)).attr("y2", y(0))
    .attr("stroke", "#999")
    .attr("stroke-width", 4.2)
    .attr("stroke-dasharray", "15.4,6.7");

  plot.selectAll("circle")
    .data(marks)
    .join("circle")
    .attr("cx", d => x(d.x / 1000))
    .attr("cy", d => y(d.y / 1000))
    .attr("r", 2.9)
    .attr("fill", color)
    .attr("stroke", color)
    .attr("stroke-width", 1.4)
    .attr("fill-opacity", d => alphaOf[d.kind])
    .attr("stroke-opacity", d => alphaOf[d.kind]);

  const xAxis = g.append("g")
    .attr("transform", `translate(0,${plotH})`)
    .call(d3.axisBottom(x).tickValues(xTicks).tickFormat(fmt).tickSize(7).tickPadding(9.5));
  const yAxis = g.append("g")
    .call(d3.axisLeft(y).tickValues(yTicks).tickFormat(showYLabels ? fmt : "").tickSize(7).tickPadding(9.3));

  [xAxis, yAxis].forEach(a => {
    a.select(".domain").remove();
    a.selectAll("line").attr("stroke", "#000").attr("stroke-width", 1.6);
    a.selectAll("text")
      .attr("font-family", "'Liberation Serif', serif")
      .attr("font-size", tickFont)
      .attr("fill", "#000");
  });
  yAxis.selectAll("text").attr("dy", "0.34em");

  g.append("rect")
    .attr("width", plotW).attr("height", plotH)
    .attr("fill", "none").attr("stroke", "#000").attr("stroke-width", 1.7);

  // title
  g.append("text")
    .attr("x", plotW / 2).attr("y", 36 - plotTop)
    .attr("text-anchor", "middle")
    .attr("font-size", labelFont)
    .text(panelTitles[i]);

  // x label: A_K (PARAM)
  const xl = g.append("text")
    .attr("x", plotW / 2).attr("y", 585 - plotTop)
    .attr("text-anchor", "middle")
    .attr("font-size", labelFont);
  xl.append("tspan").attr("font-style", "italic").text("A");
  xl.append("tspan").attr("font-style", "italic").attr("font-size", 20.5).attr("dy", 6).text("K");
  xl.append("tspan").attr("dy", -6).text(" (PARAM)");
}

drawPanel(0, "#4daf4a", collect(bayesPts, bayesMidX, bayesMidY, bayesCoreX, bayesCoreY), true);
drawPanel(1, "#f781bf", collect(rjcePts, rjceMidX, rjceMidY, rjceCoreX, rjceCoreY), false);

// shared y label
const yl = svg.append("text")
  .attr("transform", "translate(45,281) rotate(-90)")
  .attr("text-anchor", "middle")
  .attr("font-size", labelFont)
  .attr("textLength", 418)
  .attr("lengthAdjust", "spacing");
yl.append("tspan").text("\u0394");
yl.append("tspan").attr("font-style", "italic").text("A");
yl.append("tspan").attr("font-style", "italic").attr("font-size", 20.5).attr("dy", 6).text("K");
yl.append("tspan").attr("dy", -6).text(" (Other method \u2212 PARAM)");
</script>
</body>
</html>
